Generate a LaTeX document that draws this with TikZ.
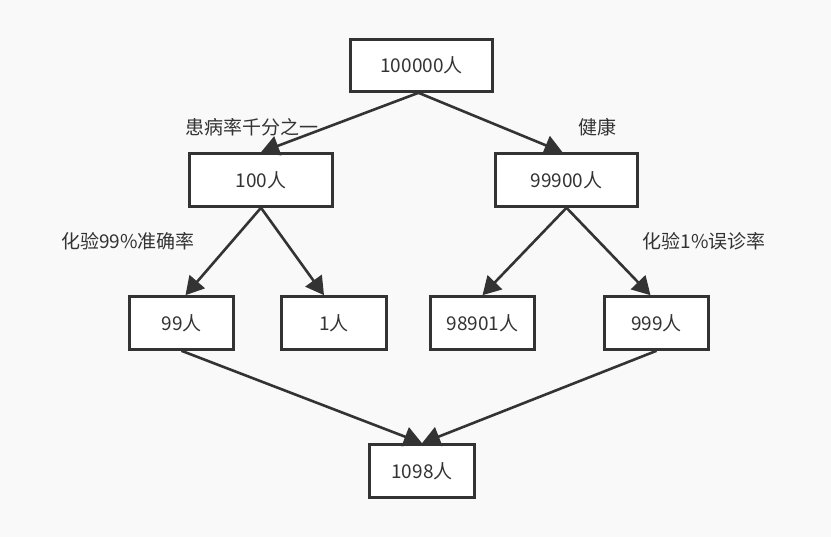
\documentclass[tikz,border=0pt]{standalone}
\usepackage{fontspec}
\setmainfont{Noto Sans CJK SC}
\usetikzlibrary{arrows.meta}
\definecolor{ink}{HTML}{333333}
\definecolor{bg}{HTML}{F9F9F9}
\begin{document}
\begin{tikzpicture}[x=1pt,y=1pt,
  box/.style={draw=ink,fill=white,line width=2.6pt,rectangle,inner sep=0pt,text=ink,font=\fontsize{19}{22}\selectfont},
  lbl/.style={text=ink,inner sep=0pt,font=\fontsize{19}{22}\selectfont},
  edge/.style={draw=ink,line width=2.6pt,-{Triangle[length=18pt,width=20pt]}}]
\fill[bg] (0,0) rectangle (831,-537);
\useasboundingbox (0,0) rectangle (831,-537);
\node[box,minimum width=142pt,minimum height=52pt] (top) at (421.5,-65.5) {100000人};
\node[box,minimum width=143pt,minimum height=53pt] (a) at (261,-180) {100人};
\node[box,minimum width=142pt,minimum height=53pt] (b) at (566.5,-180) {99900人};
\node[box,minimum width=104pt,minimum height=53pt] (a1) at (181.5,-323) {99人};
\node[box,minimum width=105pt,minimum height=53pt] (a2) at (334,-323) {1人};
\node[box,minimum width=104pt,minimum height=53pt] (b1) at (482.5,-323) {98901人};
\node[box,minimum width=104pt,minimum height=53pt] (b2) at (656.5,-323) {999人};
\node[box,minimum width=105pt,minimum height=53pt] (c) at (422,-471) {1098人};
\node[lbl] (l1) at (252,-127) {患病率千分之一};
\node[lbl] (l2) at (597,-127) {健康};
\node[lbl] (l3) at (128,-241) {化验99\%准确率};
\node[lbl] (l4) at (704,-241) {化验1\%误诊率};
\draw[edge] ([xshift=-3pt]top.south) -- (a.north);
\draw[edge] ([xshift=-3pt]top.south) -- ([xshift=-4pt]b.north);
\draw[edge] (a.south) -- ([xshift=4pt]a1.north);
\draw[edge] (a.south) -- ([xshift=-10pt]a2.north);
\draw[edge] (b.south) -- (b1.north);
\draw[edge] (b.south) -- ([xshift=-6pt]b2.north);
\draw[edge] (a1.south) -- (c.north);
\draw[edge] (b2.south) -- (c.north);
\end{tikzpicture}
\end{document}
